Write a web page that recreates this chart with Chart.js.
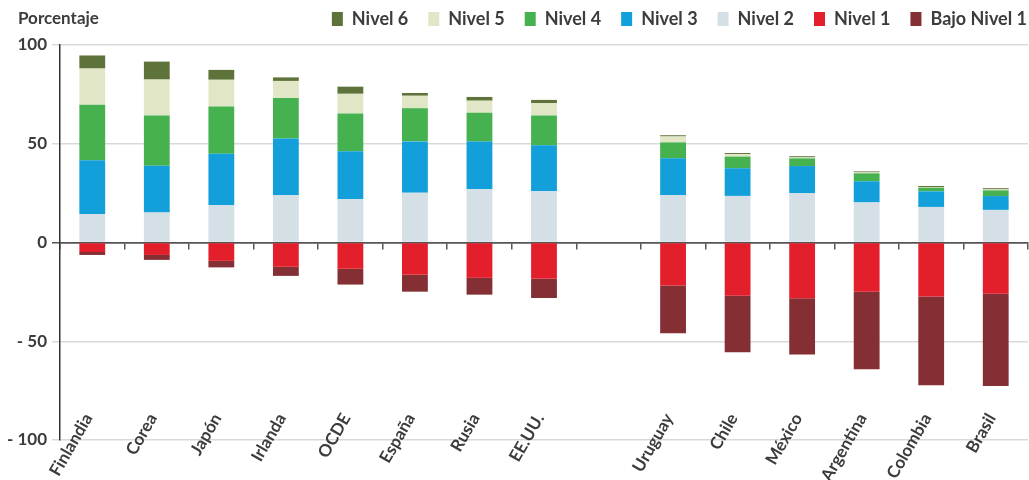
<!DOCTYPE html>
<html>
<head>
<meta charset="utf-8">
<script src="https://cdn.jsdelivr.net/npm/chart.js@4.4.1/dist/chart.umd.min.js"></script>
<style>
  html, body { margin: 0; padding: 0; background: #fff; }
  #wrap { width: 1029px; height: 480px; position: relative; }
</style>
</head>
<body>
<div id="wrap"><canvas id="plot"></canvas></div>
<script>
const categories = ['Finlandia', 'Corea', 'Japón', 'Irlanda', 'OCDE', 'España', 'Rusia', 'EE.UU.', '',
    'Uruguay', 'Chile', 'México', 'Argentina', 'Colombia', 'Brasil'];

const nivel6 = [6.6, 9.1, 5.0, 1.8, 3.6, 1.4, 1.9, 1.6, null, 0.6, 0.5, 0.6, 0.5, 0.6, 0.6];
const nivel5 = [18.4, 18.2, 13.6, 8.6, 10.0, 6.3, 6.1, 6.3, null, 3.0, 1.3, 0.5, 0.5, 0.3, 0.5];
const nivel4 = [28.1, 25.4, 23.8, 20.5, 19.1, 16.8, 14.6, 15.1, null, 8.1, 5.9, 3.9, 4.0, 1.8, 2.9];
const nivel3 = [27.2, 23.7, 26.1, 28.6, 24.3, 26.0, 24.1, 23.2, null, 18.5, 14.0, 13.8, 10.7, 7.9, 7.0];
const nivel2 = [14.4, 15.2, 18.9, 24.1, 21.9, 25.2, 27.0, 26.0, null, 24.1, 23.6, 24.9, 20.3, 18.0, 16.5];
const nivel1 = [-4.8, -6.3, -9.3, -12.3, -13.3, -16.3, -17.9, -18.3, null, -21.8, -26.9, -28.2, -24.9, -27.4, -25.9];
const bajoNivel1 = [-1.5, -2.5, -3.3, -4.6, -8.0, -8.6, -8.5, -9.8, null, -24.2, -28.7, -28.5, -39.3, -44.9, -46.8];

const yTicks = [100, 50, 0, -50, -100];
const legendOrder = ['Nivel 6', 'Nivel 5', 'Nivel 4', 'Nivel 3', 'Nivel 2', 'Nivel 1', 'Bajo Nivel 1'];

const textColor = '#3c3c3c';
const fontFamily = 'Lato, "Open Sans", sans-serif';
const legendGap = 20;

// "Porcentaje" caption at the top left, on the legend row
const captionPlugin = {
    id: 'caption',
    afterDraw(chart) {
        const c = chart.ctx;
        c.save();
        c.font = 'bold 17px ' + fontFamily;
        c.fillStyle = textColor;
        c.textBaseline = 'middle';
        c.textAlign = 'left';
        c.fillText('Porcentaje', 18, 19);
        c.restore();
    }
};

// a bit more room under the legend, and legend pushed flush to the right edge
const legendFitPlugin = {
    id: 'legendFit',
    beforeInit(chart) {
        const legend = chart.legend;
        const origFit = legend.fit;
        legend.fit = function () {
            origFit.call(this);
            this.height += 7;
        };
    },
    afterLayout(chart) {
        chart.legend.right += legendGap - 1;
    }
};

const makeSet = (label, data, color) => ({
    label: label,
    data: data,
    backgroundColor: color,
    borderWidth: 0,
    barPercentage: 0.4,
    categoryPercentage: 1.0,
    xAxisID: 'x',
    yAxisID: 'y'
});

const ctx = document.getElementById('plot').getContext('2d');
const chart = new Chart(ctx, {
    type: 'bar',
    data: {
        labels: categories,
        datasets: [
            makeSet('Nivel 1', nivel1, '#e31f2c'),
            makeSet('Bajo Nivel 1', bajoNivel1, '#842f33'),
            makeSet('Nivel 2', nivel2, '#d5dfe6'),
            makeSet('Nivel 3', nivel3, '#13a0da'),
            makeSet('Nivel 4', nivel4, '#46b14f'),
            makeSet('Nivel 5', nivel5, '#e1e6c6'),
            makeSet('Nivel 6', nivel6, '#5e733a')
        ]
    },
    options: {
        responsive: true,
        maintainAspectRatio: false,
        animation: false,
        layout: { padding: { top: -10, right: 1, left: 0, bottom: 0 } },
        plugins: {
            tooltip: { enabled: false },
            legend: {
                position: 'top',
                align: 'end',
                labels: {
                    boxWidth: 11,
                    boxHeight: 14,
                    padding: legendGap,
                    color: textColor,
                    font: { family: fontFamily, size: 18, weight: 'bold' },
                    sort: (a, b) => legendOrder.indexOf(a.text) - legendOrder.indexOf(b.text)
                }
            }
        },
        scales: {
            x: {
                type: 'category',
                stacked: true,
                offset: true,
                position: { y: 0 },
                grid: {
                    offset: true,
                    drawOnChartArea: false,
                    drawTicks: true,
                    tickLength: 6,
                    color: '#555',
                    lineWidth: 1.5
                },
                border: { display: true, color: '#555', width: 1.5 },
                ticks: { display: false }
            },
            x2: {
                type: 'category',
                position: 'bottom',
                offset: true,
                afterFit: (scale) => {
                    scale.height = 40;
                    // labels reach up into the plot, so do not clip them to the axis box
                    scale._computeLabelArea = () => undefined;
                },
                grid: { display: false },
                border: { display: false },
                ticks: {
                    autoSkip: false,
                    minRotation: 60,
                    maxRotation: 60,
                    padding: -38,
                    labelOffset: -4,
                    color: textColor,
                    font: { family: fontFamily, size: 17, weight: 'bold' }
                }
            },
            y: {
                type: 'linear',
                stacked: true,
                min: -100,
                max: 100,
                afterFit: (scale) => { scale.width = 60; },
                afterBuildTicks: (scale) => { scale.ticks = yTicks.map(v => ({ value: v })); },
                grid: {
                    color: (c) => (c.tick && c.tick.value === 0 ? '#555' : '#d9d9d9'),
                    lineWidth: 1.5,
                    tickLength: 8
                },
                border: { display: true, color: '#333', width: 1.5 },
                ticks: {
                    padding: 5,
                    color: textColor,
                    font: { family: fontFamily, size: 17, weight: 'bold' },
                    callback: (v) => (v < 0 ? '- ' + Math.abs(v) : String(v))
                }
            }
        }
    },
    plugins: [captionPlugin, legendFitPlugin]
});
</script>
</body>
</html>
